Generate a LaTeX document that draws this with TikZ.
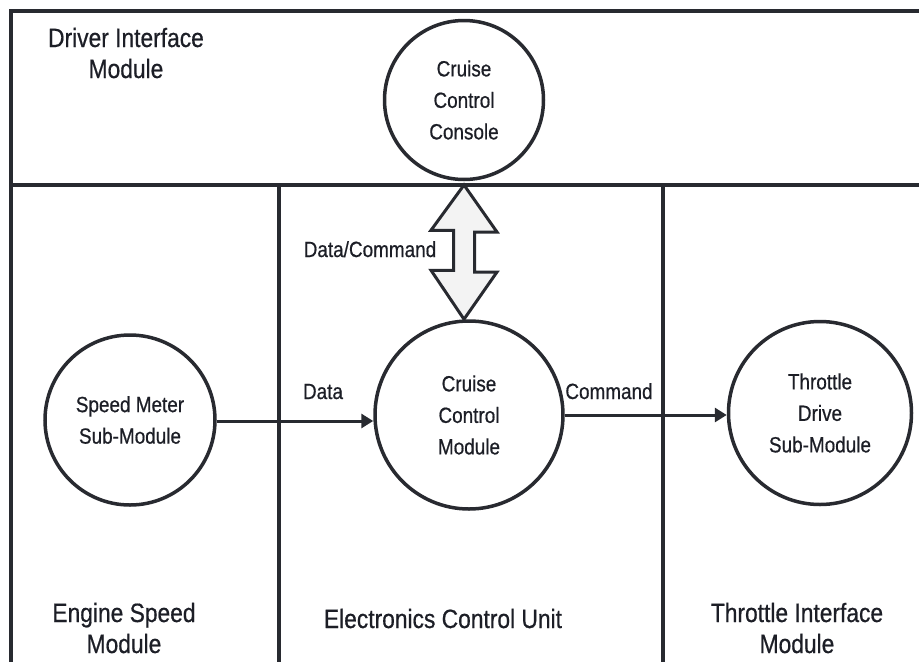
\documentclass[tikz,border=0pt]{standalone}
\usepackage{fontspec}
\setmainfont{Liberation Sans}[FakeStretch=0.86, FakeBold=0.6]
\usetikzlibrary{arrows.meta,calc}
\definecolor{ink}{RGB}{40,42,48}
\definecolor{txt}{RGB}{28,30,38}
\definecolor{arrowfill}{RGB}{243,243,243}
\tikzset{
  frame/.style={draw=ink, line width=3.5pt},
  module/.style={circle, draw=ink, line width=3.5pt, fill=white, inner sep=0pt,
    text=txt, align=center, font=\fontsize{22}{31.5}\selectfont},
  zonelabel/.style={text=txt, align=center, inner sep=0pt, anchor=base,
    font=\fontsize{26.5}{31}\selectfont},
  flowlabel/.style={text=txt, inner sep=0pt, anchor=base,
    font=\fontsize{22}{25}\selectfont},
  flow/.style={draw=ink, line width=3pt, -{Triangle[length=12pt,width=14pt]}},
  bigarrow/.style={draw=ink, line width=3pt, fill=arrowfill, line join=miter},
}
\begin{document}
\begin{tikzpicture}[x=1pt, y=-1pt]
  \useasboundingbox (0,0) rectangle (919,662);

  % zone frame: top edge, left edge, divider and the two column separators
  \draw[frame] (919,11) -- (11,11) -- (11,662);
  \draw[frame] (11,185) -- (919,185);
  \draw[frame] (279,185) -- (279,662);
  \draw[frame] (663,185) -- (663,662);

  % zone titles
  \node[zonelabel] (dim) at (126,47) {Driver Interface};
  \node[zonelabel] (dim2) at (126,78) {Module};
  \node[zonelabel] (esm) at (124,622) {Engine Speed};
  \node[zonelabel] (esm2) at (124,653) {Module};
  \node[zonelabel] (ecu) at (443,628) {Electronics Control Unit};
  \node[zonelabel] (tim) at (797,622) {Throttle Interface};
  \node[zonelabel] (tim2) at (797,653) {Module};

  % functional blocks
  \node[module, minimum size=159pt] (console) at (464,100) {Cruise\\Control\\Console};
  \node[module, minimum size=170pt] (speed) at (130,420) {Speed Meter\\Sub-Module};
  \node[module, minimum size=188pt] (ccm) at (469,415) {Cruise\\Control\\Module};
  \node[module, minimum size=183pt] (throttle) at (820,413) {Throttle\\Drive\\Sub-Module};

  % two-way data/command exchange
  \coordinate (dtop) at (464,185);
  \coordinate (dbot) at (dtop |- ccm.north);
  \draw[bigarrow] (dtop) -- ++(33,47) -- ++(-22.5,0) -- ++(0,40) -- ++(22.5,0)
    -- (dbot) -- ++(-33,-49) -- ++(22.5,0) -- ++(0,-40) -- ++(-22.5,0) -- cycle;

  % one-way flows
  \coordinate (row1) at (0,421);
  \coordinate (row2) at (0,415);
  \draw[flow] (speed.east |- row1) -- (ccm.west |- row1);
  \draw[flow] (ccm.east |- row2) -- (throttle.west |- row2);

  % flow labels
  \node[flowlabel] (lbl1) at (370,257) {Data/Command};
  \node[flowlabel] (lbl2) at (323,399) {Data};
  \node[flowlabel] (lbl3) at (609,399) {Command};
\end{tikzpicture}
\end{document}
